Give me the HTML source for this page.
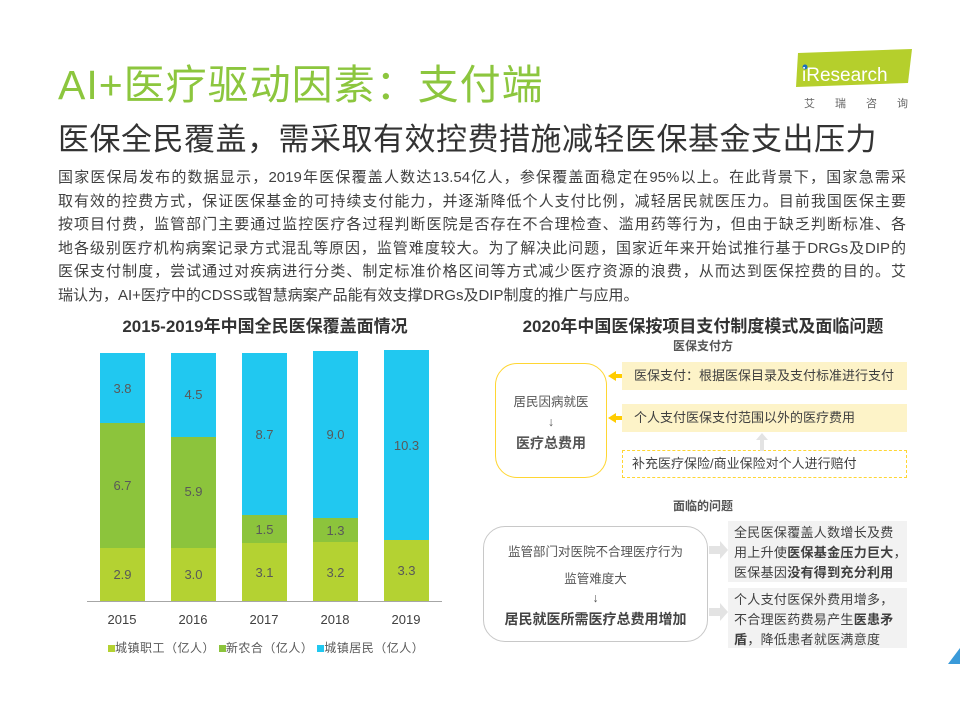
<!DOCTYPE html>
<html><head><meta charset="utf-8"><style>
*{margin:0;padding:0;box-sizing:border-box}
body{width:960px;height:720px;background:#fff;position:relative;overflow:hidden;font-family:"Liberation Sans","Noto Sans CJK SC",sans-serif;color:#404040}
.a{position:absolute}
.para{left:58px;top:166px;width:848px;font-size:15px;line-height:23.6px;color:#404040}
.para div{text-align:justify;text-align-last:justify;white-space:nowrap;height:23.6px}
.para div.l{text-align-last:left}
.bar{position:absolute;width:45px}
.lbl{position:absolute;width:45px;text-align:center;font-size:13px;color:#595959}
.yr{position:absolute;width:60px;text-align:center;font-size:13px;color:#404040;top:612px}
.yb{background:#fdf3c8;font-size:13px;color:#404040;padding-left:12px;line-height:28px}
.gb{background:#f2f2f2;font-size:13px;color:#404040;padding:2px 6px;line-height:20px;white-space:nowrap;letter-spacing:0.3px}
</style></head><body>
<div class="a" style="left:58px;top:51px;font-size:41px;color:#8cc63e;letter-spacing:1px">AI+医疗驱动因素：支付端</div>
<div class="a" style="left:58px;top:114px;font-size:31px;color:#333;letter-spacing:0.5px">医保全民覆盖，需采取有效控费措施减轻医保基金支出压力</div>
<svg class="a" style="left:790px;top:45px" width="130" height="70">
<polygon points="8,8 122,4 118,38 6,42" fill="#b5cf2c"/>
<circle cx="15" cy="22" r="2.5" fill="#1a6fbf"/>
<text x="12" y="36" font-family="Liberation Sans" font-size="19" fill="#fff">iResearch</text>
<text x="14" y="62" font-family="Noto Sans CJK SC" font-size="11" fill="#666" letter-spacing="20">艾瑞咨询</text>
</svg>
<div class="a para">
<div>国家医保局发布的数据显示，2019年医保覆盖人数达13.54亿人，参保覆盖面稳定在95%以上。在此背景下，国家急需采</div>
<div>取有效的控费方式，保证医保基金的可持续支付能力，并逐渐降低个人支付比例，减轻居民就医压力。目前我国医保主要</div>
<div>按项目付费，监管部门主要通过监控医疗各过程判断医院是否存在不合理检查、滥用药等行为，但由于缺乏判断标准、各</div>
<div>地各级别医疗机构病案记录方式混乱等原因，监管难度较大。为了解决此问题，国家近年来开始试推行基于DRGs及DIP的</div>
<div>医保支付制度，尝试通过对疾病进行分类、制定标准价格区间等方式减少医疗资源的浪费，从而达到医保控费的目的。艾</div>
<div class="l">瑞认为，AI+医疗中的CDSS或智慧病案产品能有效支撑DRGs及DIP制度的推广与应用。</div>
</div>
<div class="a" style="left:90px;top:312px;width:350px;text-align:center;font-size:17px;font-weight:bold;color:#333">2015-2019年中国全民医保覆盖面情况</div>
<div class="a" style="left:480px;top:312px;width:446px;text-align:center;font-size:17px;font-weight:bold;color:#333">2020年中国医保按项目支付制度模式及面临问题</div>

<div class="bar" style="left:100px;top:353px;height:70px;background:#21c8f0"></div>
<div class="bar" style="left:100px;top:423px;height:125px;background:#8cc43c"></div>
<div class="bar" style="left:100px;top:548px;height:54px;background:#b4d232"></div>
<div class="bar" style="left:171px;top:353px;height:84px;background:#21c8f0"></div>
<div class="bar" style="left:171px;top:437px;height:111px;background:#8cc43c"></div>
<div class="bar" style="left:171px;top:548px;height:54px;background:#b4d232"></div>
<div class="bar" style="left:242px;top:353px;height:162px;background:#21c8f0"></div>
<div class="bar" style="left:242px;top:515px;height:28px;background:#8cc43c"></div>
<div class="bar" style="left:242px;top:543px;height:59px;background:#b4d232"></div>
<div class="bar" style="left:313px;top:351px;height:167px;background:#21c8f0"></div>
<div class="bar" style="left:313px;top:518px;height:24px;background:#8cc43c"></div>
<div class="bar" style="left:313px;top:542px;height:60px;background:#b4d232"></div>
<div class="bar" style="left:384px;top:350px;height:190px;background:#21c8f0"></div>
<div class="bar" style="left:384px;top:540px;height:62px;background:#b4d232"></div>
<div class="a" style="left:87px;top:601px;width:355px;height:1px;background:#a6a6a6"></div>
<div class="lbl" style="left:100px;top:381px">3.8</div>
<div class="lbl" style="left:100px;top:478px">6.7</div>
<div class="lbl" style="left:100px;top:567px">2.9</div>
<div class="lbl" style="left:171px;top:387px">4.5</div>
<div class="lbl" style="left:171px;top:484px">5.9</div>
<div class="lbl" style="left:171px;top:567px">3.0</div>
<div class="lbl" style="left:242px;top:427px">8.7</div>
<div class="lbl" style="left:242px;top:522px">1.5</div>
<div class="lbl" style="left:242px;top:565px">3.1</div>
<div class="lbl" style="left:313px;top:427px">9.0</div>
<div class="lbl" style="left:313px;top:523px">1.3</div>
<div class="lbl" style="left:313px;top:565px">3.2</div>
<div class="lbl" style="left:384px;top:438px">10.3</div>
<div class="lbl" style="left:384px;top:563px">3.3</div>
<div class="yr" style="left:92px">2015</div>
<div class="yr" style="left:163px">2016</div>
<div class="yr" style="left:234px">2017</div>
<div class="yr" style="left:305px">2018</div>
<div class="yr" style="left:376px">2019</div>
<div class="a" style="left:108px;top:639px;font-size:12px;color:#595959;white-space:nowrap;letter-spacing:0.5px">
<span style="display:inline-block;width:7px;height:7px;background:#b4d232"></span>城镇职工（亿人）&nbsp;<span style="display:inline-block;width:7px;height:7px;background:#8cc43c"></span>新农合（亿人）&nbsp;<span style="display:inline-block;width:7px;height:7px;background:#21c8f0"></span>城镇居民（亿人）</div>

<div class="a" style="left:480px;top:337px;width:446px;text-align:center;font-size:12px;font-weight:bold;color:#555">医保支付方</div>
<div class="a" style="left:495px;top:363px;width:112px;height:115px;border:1.5px solid #ffd633;border-radius:22px;text-align:center;font-size:12.5px;color:#555">
<div style="margin-top:27px">居民因病就医</div><div style="margin-top:5px">↓</div><div style="margin-top:4px;font-size:14px;font-weight:bold">医疗总费用</div></div>
<div class="a yb" style="left:622px;top:362px;width:285px;height:28px">医保支付：根据医保目录及支付标准进行支付</div>
<div class="a yb" style="left:622px;top:404px;width:285px;height:28px">个人支付医保支付范围以外的医疗费用</div>
<div class="a" style="left:622px;top:450px;width:285px;height:28px;border:1.5px dashed #ffd633;font-size:13px;line-height:25px;padding-left:9px">补充医疗保险/商业保险对个人进行赔付</div>
<svg class="a" style="left:606px;top:370px" width="20" height="60"><polygon points="2,6 10,1 10,4 16,4 16,8 10,8 10,11" fill="#ffcc00"/><polygon points="2,48 10,43 10,46 16,46 16,50 10,50 10,53" fill="#ffcc00"/></svg>
<svg class="a" style="left:754px;top:432px" width="16" height="20"><polygon points="8,1 14,8 10,8 10,19 6,19 6,8 2,8" fill="#e3e3e3"/></svg>

<div class="a" style="left:480px;top:497px;width:446px;text-align:center;font-size:12px;font-weight:bold;color:#555">面临的问题</div>
<div class="a" style="left:483px;top:526px;width:225px;height:116px;border:1px solid #c8c8c8;border-radius:22px;text-align:center;font-size:12.5px;color:#555">
<div style="margin-top:14px">监管部门对医院不合理医疗行为</div><div style="margin-top:8px">监管难度大</div><div style="margin-top:4px">↓</div><div style="margin-top:4px;font-size:14px;font-weight:bold;color:#444">居民就医所需医疗总费用增加</div></div>
<div class="a gb" style="left:728px;top:521px;width:179px;height:61px">全民医保覆盖人数增长及费<br>用上升使<b>医保基金压力巨大</b>，<br>医保基因<b>没有得到充分利用</b></div>
<div class="a gb" style="left:728px;top:588px;width:179px;height:60px">个人支付医保外费用增多，<br>不合理医药费易产生<b>医患矛</b><br><b>盾</b>，降低患者就医满意度</div>
<svg class="a" style="left:708px;top:540px" width="22" height="90"><polygon points="1,6 12,6 12,1 20,10 12,19 12,14 1,14" fill="#e3e3e3"/><polygon points="1,68 12,68 12,63 20,72 12,81 12,76 1,76" fill="#e3e3e3"/></svg>
<svg class="a" style="left:940px;top:648px" width="20" height="20"><polygon points="20,0 20,16 8,16" fill="#3a9ad9"/></svg>
</body></html>
